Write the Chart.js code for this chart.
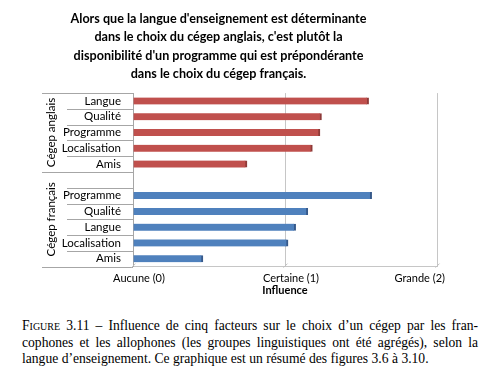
<!DOCTYPE html>
<html>
<head>
<meta charset="utf-8">
<script src="https://cdn.jsdelivr.net/npm/chart.js@4"></script>
<style>
  html, body { margin: 0; padding: 0; background: #fff; }
  #wrap { position: absolute; left: 0; top: 0; width: 489px; height: 310px; }
  #caption { position: absolute; left: 22px; top: 318px; width: 456px;
    font-family: "Liberation Serif", serif; font-size: 13.6px; line-height: 16.5px; color: #000; }
  #caption div { text-align: justify; text-align-last: justify; white-space: nowrap; }
  #caption div.last { text-align-last: left; }
  .sc { font-variant: small-caps; }
</style>
</head>
<body>
<div id="wrap"><canvas id="c" width="489" height="310"></canvas></div>
<div id="caption">
  <div><span class="sc">Figure</span> 3.11 – Influence de cinq facteurs sur le choix d’un cégep par les fran-</div>
  <div>cophones et les allophones (les groupes linguistiques ont été agrégés), selon la</div>
  <div class="last">langue d’enseignement. Ce graphique est un résumé des figures 3.6 à 3.10.</div>
</div>
<script>
const titleLines = [
  "Alors que la langue d'enseignement est déterminante",
  "dans le choix du cégep anglais, c'est plutôt la",
  "disponibilité d'un programme qui est prépondérante",
  "dans le choix du cégep français."
];
const categories = ['Langue', 'Qualité', 'Programme', 'Localisation', 'Amis', '',
                    'Programme', 'Qualité', 'Langue', 'Localisation', 'Amis'];
const anglaisValues  = [1.55, 1.24, 1.23, 1.18, 0.75, null, null, null, null, null, null];
const francaisValues = [null, null, null, null, null, null, 1.57, 1.15, 1.07, 1.02, 0.46];
const groupNames = ['Cégep anglais', 'Cégep français'];
const groupStarts = [0, 5];
const tickLabels = ['Aucune (0)', 'Certaine (1)', 'Grande (2)'];
const axisTitle = 'Influence';

const FONT = 'Lato, "Open Sans", sans-serif';

const decor = {
  id: 'decor',
  afterDraw(chart) {
    const ctx = chart.ctx;
    const ys = chart.scales.y, xs = chart.scales.x;
    const ca = chart.chartArea;
    const n = categories.length;
    const step = (ys.getPixelForValue(1) - ys.getPixelForValue(0));
    ctx.save();
    ctx.strokeStyle = '#a6a6a6';
    ctx.lineWidth = 1;
    for (let i = 0; i <= n; i++) {
      const yy = Math.round(ys.getPixelForValue(i) - step / 2) + 0.5;
      const isGroup = i === n || groupStarts.indexOf(i) >= 0;
      ctx.beginPath();
      ctx.moveTo(isGroup ? 42 : 67, yy);
      ctx.lineTo(ca.left, yy);
      ctx.stroke();
    }
    ctx.fillStyle = '#000';
    ctx.font = '11.5px ' + FONT;
    ctx.textAlign = 'center';
    ctx.textBaseline = 'middle';
    for (let g = 0; g < groupNames.length; g++) {
      const from = groupStarts[g];
      const to = g + 1 < groupStarts.length ? groupStarts[g + 1] - 1 : n - 1;
      const y0 = ys.getPixelForValue(from) - step / 2;
      const y1 = ys.getPixelForValue(to) + step / 2;
      ctx.save();
      ctx.translate(51, (y0 + y1) / 2);
      ctx.rotate(-Math.PI / 2);
      ctx.fillText(groupNames[g], 0, 0);
      ctx.restore();
    }
    ctx.font = '11px ' + FONT;
    ctx.textBaseline = 'middle';
    const ty = ca.bottom + 12;
    for (let i = 0; i < tickLabels.length; i++) {
      const w = ctx.measureText(tickLabels[i]).width;
      let cx = xs.getPixelForValue(i) + 6;
      const maxRight = chart.width - 44;
      if (cx + w / 2 > maxRight) cx = maxRight - w / 2;
      ctx.textAlign = 'center';
      ctx.fillText(tickLabels[i], cx, ty);
    }
    ctx.strokeStyle = '#bfbfbf';
    for (let i = 0; i < tickLabels.length; i++) {
      const px = Math.round(xs.getPixelForValue(i)) + 0.5;
      ctx.beginPath();
      ctx.moveTo(px + 2, ca.bottom - 3);
      ctx.lineTo(px - 2, ca.bottom + 1);
      ctx.stroke();
    }
    ctx.restore();
  }
};

new Chart(document.getElementById('c'), {
  type: 'bar',
  data: {
    labels: categories,
    datasets: [
      { label: 'Cégep anglais', data: anglaisValues, backgroundColor: '#C0504D',
        borderColor: '#8E3A38', borderWidth: { right: 2, top: 0, bottom: 0, left: 0 },
        borderSkipped: false, barThickness: 7, grouped: false },
      { label: 'Cégep français', data: francaisValues, backgroundColor: '#4F81BD',
        borderColor: '#36598A', borderWidth: { right: 2, top: 0, bottom: 0, left: 0 },
        borderSkipped: false, barThickness: 7, grouped: false }
    ]
  },
  options: {
    indexAxis: 'y',
    responsive: false,
    animation: false,
    devicePixelRatio: 1,
    layout: { padding: { left: 0, right: 52, top: 0, bottom: 13 } },
    plugins: {
      legend: { display: false },
      tooltip: { enabled: false },
      title: {
        display: true, text: titleLines, color: '#000',
        font: { family: FONT, size: 12.6, weight: 'bold', lineHeight: 1.45 },
        padding: { top: 10, bottom: 10 }
      }
    },
    scales: {
      x: {
        min: 0, max: 2,
        ticks: { stepSize: 1, color: 'rgba(0,0,0,0)', font: { family: FONT, size: 11 },
                 callback: (v) => tickLabels[v], padding: 2, maxRotation: 0 },
        grid: { color: '#c6c6c6', drawTicks: false },
        border: { display: true, color: '#c6c6c6' },
        title: { display: true, text: axisTitle, color: '#000',
                 font: { family: FONT, size: 11, weight: 'bold' }, padding: { top: 0, bottom: 0 } }
      },
      y: {
        afterFit(scale) { scale.width = 133; },
        ticks: { color: '#000', font: { family: FONT, size: 11.5 }, padding: 12, autoSkip: false },
        grid: { display: false, drawTicks: false },
        border: { display: true, color: '#a6a6a6' }
      }
    }
  },
  plugins: [decor]
});
</script>
</body>
</html>
